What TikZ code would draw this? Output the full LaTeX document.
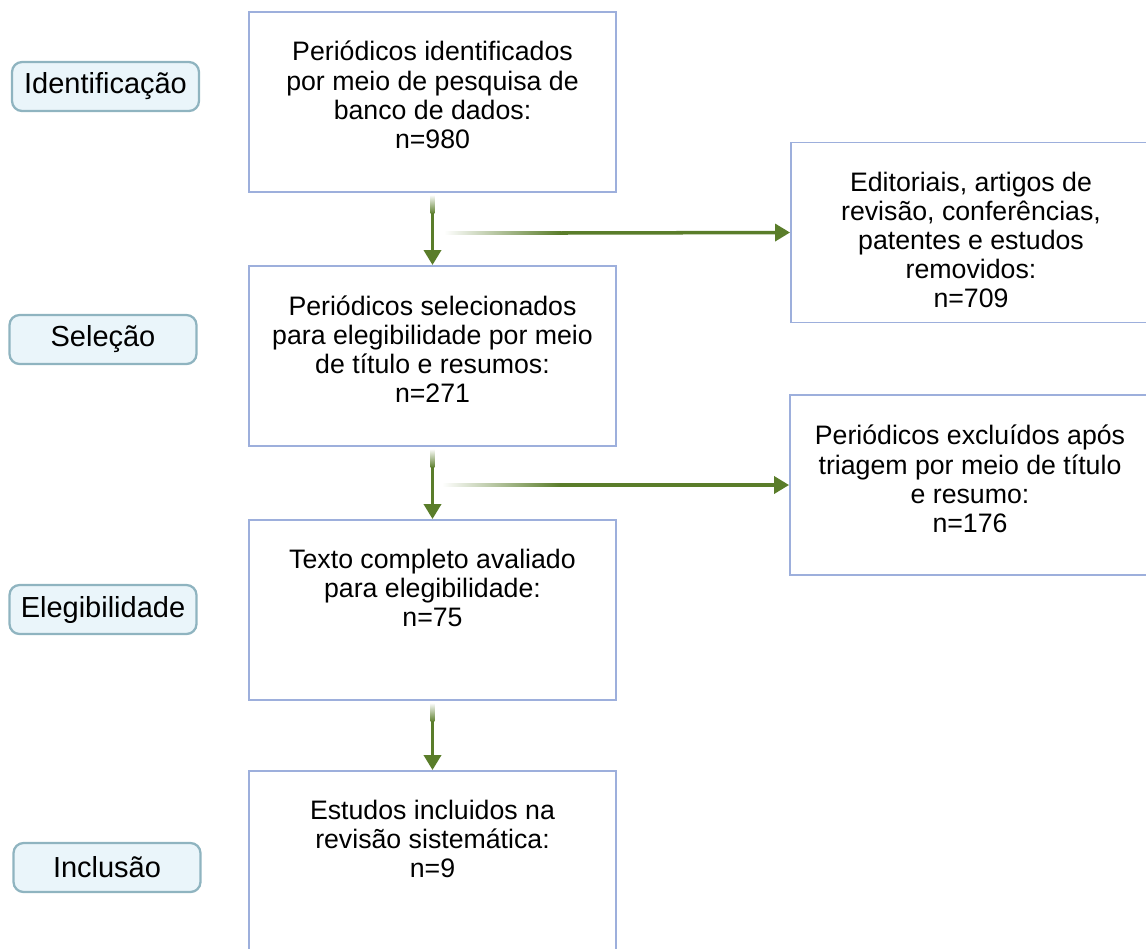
\documentclass[tikz,border=0pt]{standalone}
\usepackage{fontspec}
\setmainfont{Liberation Sans}
\usetikzlibrary{positioning,arrows.meta}

\definecolor{boxline}{HTML}{9DAFDC}
\definecolor{stagefill}{HTML}{EAF5FA}
\definecolor{stageline}{HTML}{8FB4C0}
\definecolor{flowgreen}{HTML}{5A7D2A}

\begin{document}
\begin{tikzpicture}[
      x=0.02cm, y=-0.02cm,
      stepbox/.style = {draw=boxline, line width=1.1pt, minimum width=7.34cm, minimum height=3.6cm, inner sep=0pt},
      sidebox/.style = {stepbox, minimum width=7.2cm},
      txt/.style = {align=center, font=\fontsize{15.2}{16.6}\selectfont, inner sep=0pt},
      stage/.style = {draw=stageline, fill=stagefill, line width=1.3pt, rounded corners=0.2cm,
                      minimum width=3.74cm, minimum height=0.98cm, font=\fontsize{16.5}{18}\selectfont},
      flow/.style = {flowgreen, line width=2pt, -{Triangle[length=0.3cm, width=0.34cm]}},
      fadeh/.style = {left color=white, right color=flowgreen},
      fadev/.style = {top color=white, bottom color=flowgreen}
      ]
      \useasboundingbox (0,0) rectangle (1146,948);

      % stages
      \node[stage] (ident) at (105.5,86.5) {Identificação};
      \node[stage] (selec) at (103,339.5) {Seleção};
      \node[stage] (eleg) at (103,609.5) {Elegibilidade};
      \node[stage] (incl) at (107,867.5) {Inclusão};

      % main boxes
      \node[stepbox] (found) at (432.5,102) {};
      \node[txt] (foundtxt) at (432.5,95) {Periódicos identificados\\por meio de pesquisa de\\banco de dados:\\n=980};
      \node[stepbox] (screen) at (432.5,356) {};
      \node[txt] (screentxt) at (432.5,349) {Periódicos selecionados\\para elegibilidade por meio\\de título e resumos:\\n=271};
      \node[stepbox] (full) at (432.5,610) {};
      \node[txt] (fulltxt) at (432.5,588) {Texto completo avaliado\\para elegibilidade:\\n=75};
      \node[stepbox] (incl box) at (432.5,861) {};
      \node[txt] (incltxt) at (432.5,839) {Estudos incluidos na\\revisão sistemática:\\n=9};

      % excluded boxes
      \node[sidebox] (removed) at (971,232.5) {};
      \node[txt] (removedtxt) at (971,240) {Editoriais, artigos de\\revisão, conferências,\\patentes e estudos\\removidos:\\n=709};
      \node[sidebox] (excl) at (970,485) {};
      \node[txt] (excltxt) at (970,479) {Periódicos excluídos após\\triagem por meio de título\\e resumo:\\n=176};

      % arrows (soft start, then solid)
      \coordinate (split1) at (444,233);
      \coordinate (solid1) at (560,233);
      \coordinate (split2) at (442,485);
      \coordinate (solid2) at (560,485);
      \shade[fadeh] ([yshift=1pt]split1) rectangle ([yshift=-1pt,xshift=0.5pt]solid1);
      \shade[fadeh] ([yshift=1pt]split2) rectangle ([yshift=-1pt,xshift=0.5pt]solid2);
      \draw[flow] (solid1) -- (removed.west);
      \draw[flow] (solid2) -- (excl.west);

      \foreach \a/\b in {found/screen, screen/full, full/incl box} {
        \coordinate (\a-top) at ([yshift=-1pt]\a.south);
        \coordinate (\a-mid) at ([yshift=-0.4cm]\a.south);
        \shade[fadev] ([xshift=-1pt]\a-top) rectangle ([xshift=1pt,yshift=-0.5pt]\a-mid);
        \draw[flow] (\a-mid) -- (\b.north);
      }
    \end{tikzpicture}
\end{document}
